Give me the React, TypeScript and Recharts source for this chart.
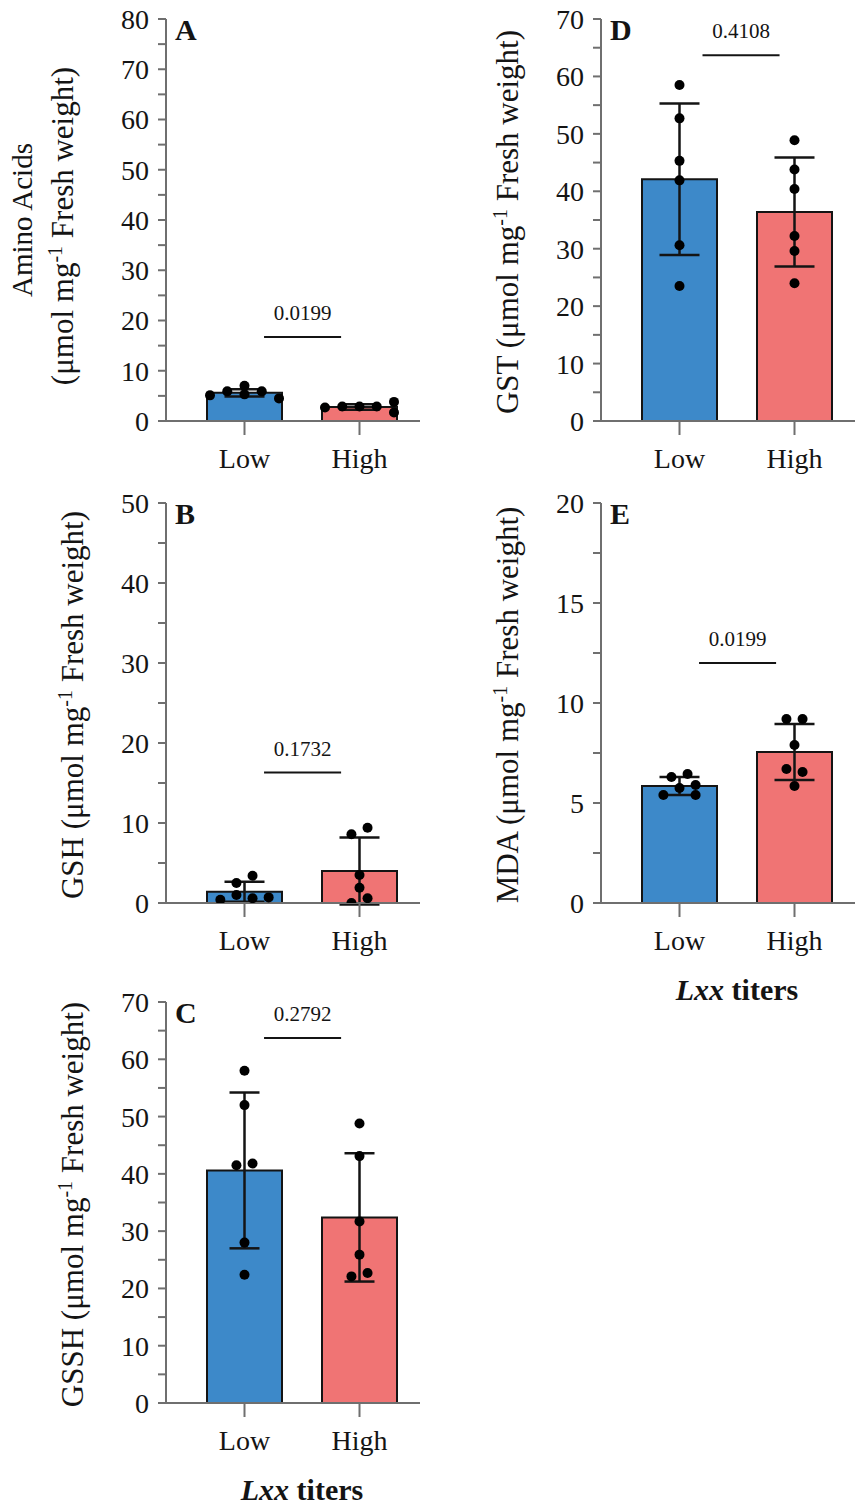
import React from 'react'
import {
  ComposedChart,
  Bar,
  ErrorBar,
  Scatter,
  XAxis,
  YAxis,
  ReferenceLine,
  Label,
  Cell,
} from 'recharts'

const groups = ['Low', 'High']
const barColors = ['#3d89c9', '#f07474']

// A - amino acids
const aminoMean = [5.6, 2.8]
const aminoSd = [0.7, 0.55]
const aminoLow = [5.1, 5.9, 7.0, 5.3, 5.9, 4.5]
const aminoHigh = [2.7, 2.9, 2.9, 2.9, 3.8, 1.7]
const aminoLowSpread = [-0.3, -0.15, 0, 0, 0.15, 0.3]
const aminoHighSpread = [-0.3, -0.15, 0, 0.15, 0.3, 0.3]
const aminoTicks = [0, 5, 10, 15, 20, 25, 30, 35, 40, 45, 50, 55, 60, 65, 70, 75, 80]

// B - GSH
const gshMean = [1.4, 4.0]
const gshSd = [1.25, 4.2]
const gshLow = [0.4, 1.0, 2.5, 3.4, 0.6, 0.7]
const gshHigh = [8.6, 9.4, 3.5, 1.9, 0.6, 0.0]
const gshLowSpread = [-0.21, -0.07, -0.07, 0.07, 0.07, 0.21]
const gshHighSpread = [-0.07, 0.07, 0, 0, 0.07, -0.07]
const gshTicks = [0, 5, 10, 15, 20, 25, 30, 35, 40, 45, 50]

// C - GSSH
const gsshMean = [40.6, 32.4]
const gsshSd = [13.6, 11.2]
const gsshLow = [58.0, 52.0, 41.5, 41.8, 28.0, 22.4]
const gsshHigh = [48.8, 43.1, 31.7, 25.9, 22.1, 22.7]
const gsshLowSpread = [0, 0, -0.07, 0.07, 0, 0]
const gsshHighSpread = [0, 0, 0, 0, -0.07, 0.07]
const gsshTicks = [0, 5, 10, 15, 20, 25, 30, 35, 40, 45, 50, 55, 60, 65, 70]

// D - GST
const gstMean = [42.1, 36.4]
const gstSd = [13.2, 9.5]
const gstLow = [58.5, 52.7, 45.3, 41.9, 30.6, 23.5]
const gstHigh = [48.9, 43.8, 40.4, 32.2, 29.6, 24.0]
const gstSpread = [0, 0, 0, 0, 0, 0]
const gstTicks = [0, 5, 10, 15, 20, 25, 30, 35, 40, 45, 50, 55, 60, 65, 70]

// E - MDA
const mdaMean = [5.85, 7.55]
const mdaSd = [0.45, 1.4]
const mdaLow = [6.3, 6.45, 5.75, 5.9, 5.4, 5.4]
const mdaHigh = [9.2, 9.2, 7.9, 6.7, 6.55, 5.85]
const mdaLowSpread = [-0.07, 0.07, 0, 0.14, -0.14, 0.14]
const mdaHighSpread = [-0.07, 0.07, 0, -0.07, 0.07, 0]
const mdaTicks = [0, 2.5, 5, 7.5, 10, 12.5, 15, 17.5, 20]

const FONT = '"Liberation Serif", "Times New Roman", serif'
const AXIS = '#6f6f6f'
const INK = '#141414'
const PAD = { left: 21, right: 3 }

function unitTitle(prefix: string) {
  return [
    <tspan key="a">{prefix}(μmol mg</tspan>,
    <tspan key="b" dy={-11} fontSize={20}>-1</tspan>,
    <tspan key="c" dy={11}> Fresh weight)</tspan>,
  ]
}

function yTitle(name: string, letter: string, twoLine: boolean) {
  return (props: any) => {
    const vb = props.viewBox
    const ax = vb.x + vb.width
    const cy = vb.y + vb.height / 2
    return (
      <g fontFamily={FONT} fill={INK}>
        {twoLine ? (
          <>
            <text transform={`translate(${ax - 134},${cy}) rotate(-90)`} textAnchor="middle" fontSize={29}>
              {name}
            </text>
            <text transform={`translate(${ax - 93},${cy + 6}) rotate(-90)`} textAnchor="middle" fontSize={31}>
              {unitTitle('')}
            </text>
          </>
        ) : (
          <text transform={`translate(${ax - 83},${cy + 2}) rotate(-90)`} textAnchor="middle" fontSize={31}>
            {unitTitle(name + ' ')}
          </text>
        )}
        <text x={ax + 9} y={vb.y + 21} fontSize={30} fontWeight="bold">
          {letter}
        </text>
      </g>
    )
  }
}

function xTitle(props: any) {
  const vb = props.viewBox
  const cx = vb.x + PAD.left + (vb.width - PAD.left - PAD.right) / 2
  return (
    <text x={cx} y={vb.y + 97} textAnchor="middle" fontFamily={FONT} fontSize={30} fontWeight="bold" fill={INK}>
      <tspan fontStyle="italic">Lxx</tspan> titers
    </text>
  )
}

const dot = (p: any) => <circle cx={p.cx} cy={p.cy} r={5} fill="#000" />

interface PanelProps {
  left: number
  top: number
  height: number
  letter: string
  name: string
  twoLine?: boolean
  mean: number[]
  sd: number[]
  low: number[]
  high: number[]
  lowSpread: number[]
  highSpread: number[]
  ticks: number[]
  labelStep: number
  cap: number
  sigY: number
  sig: string
  sigFrom?: number
  sigTo?: number
  xLabel?: boolean
}

function Panel(p: PanelProps) {
  const data = groups.map((name, i) => ({ name, mean: p.mean[i], sd: p.sd[i] }))
  const dots = [
    ...p.low.map((y, i) => ({ x: p.lowSpread[i], y })),
    ...p.high.map((y, i) => ({ x: 1 + p.highSpread[i], y })),
  ]
  const max = p.ticks[p.ticks.length - 1]
  return (
    <div style={{ position: 'absolute', left: p.left, top: p.top }}>
      <ComposedChart width={432} height={p.height} data={data} margin={{ top: 19, right: 12, bottom: 0, left: 0 }}>
        <XAxis
          dataKey="name"
          padding={PAD}
          height={p.xLabel ? 104 : 64}
          axisLine={{ stroke: AXIS, strokeWidth: 2 }}
          tickLine={{ stroke: AXIS, strokeWidth: 2 }}
          tickSize={14}
          tickMargin={13}
          tick={{ fill: INK, fontSize: 28, fontFamily: FONT }}
        >
          {p.xLabel && <Label content={xTitle} />}
        </XAxis>
        <XAxis xAxisId="n" type="number" dataKey="x" domain={[-0.5, 1.5]} allowDataOverflow padding={PAD} hide />
        <YAxis
          width={166}
          domain={[0, max]}
          ticks={p.ticks}
          interval={0}
          allowDataOverflow
          tickFormatter={(v: number) => (v % p.labelStep === 0 ? String(v) : '')}
          axisLine={{ stroke: AXIS, strokeWidth: 2 }}
          tickLine={{ stroke: AXIS, strokeWidth: 2 }}
          tickSize={8}
          tickMargin={9}
          tick={{ fill: INK, fontSize: 28, fontFamily: FONT }}
        >
          <Label content={yTitle(p.name, p.letter, !!p.twoLine)} />
        </YAxis>
        <Bar dataKey="mean" barSize={75} stroke={INK} strokeWidth={2} isAnimationActive={false}>
          {data.map((d, i) => (
            <Cell key={d.name} fill={barColors[i]} />
          ))}
          <ErrorBar dataKey="sd" width={p.cap / 2} stroke={INK} strokeWidth={2.5} />
        </Bar>
        <ReferenceLine
          xAxisId="n"
          segment={[
            { x: p.sigFrom ?? 0.17, y: p.sigY },
            { x: p.sigTo ?? 0.84, y: p.sigY },
          ]}
          stroke={INK}
          strokeWidth={2}
          label={{ value: p.sig, position: 'top', offset: 17, fontSize: 21, fontFamily: FONT, fill: INK }}
        />
        <Scatter xAxisId="n" data={dots} dataKey="y" shape={dot} isAnimationActive={false} />
      </ComposedChart>
    </div>
  )
}

export default function App() {
  return (
    <div style={{ position: 'absolute', left: 0, top: 0, width: 867, height: 1507, background: '#fff' }}>
      <Panel left={0} top={0} height={485} letter="A" name="Amino Acids" twoLine
        mean={aminoMean} sd={aminoSd} low={aminoLow} high={aminoHigh}
        lowSpread={aminoLowSpread} highSpread={aminoHighSpread}
        ticks={aminoTicks} labelStep={10} cap={40} sigY={16.7} sig="0.0199" />
      <Panel left={0} top={484} height={483} letter="B" name="GSH"
        mean={gshMean} sd={gshSd} low={gshLow} high={gshHigh}
        lowSpread={gshLowSpread} highSpread={gshHighSpread}
        ticks={gshTicks} labelStep={10} cap={40} sigY={16.3} sig="0.1732" />
      <Panel left={0} top={983} height={524} letter="C" name="GSSH" xLabel
        mean={gsshMean} sd={gsshSd} low={gsshLow} high={gsshHigh}
        lowSpread={gsshLowSpread} highSpread={gsshHighSpread}
        ticks={gsshTicks} labelStep={10} cap={30} sigY={63.7} sig="0.2792" />
      <Panel left={435} top={0} height={485} letter="D" name="GST"
        mean={gstMean} sd={gstSd} low={gstLow} high={gstHigh}
        lowSpread={gstSpread} highSpread={gstSpread}
        ticks={gstTicks} labelStep={10} cap={40} sigY={63.7} sig="0.4108" sigFrom={0.2} sigTo={0.87} />
      <Panel left={435} top={484} height={523} letter="E" name="MDA" xLabel
        mean={mdaMean} sd={mdaSd} low={mdaLow} high={mdaHigh}
        lowSpread={mdaLowSpread} highSpread={mdaHighSpread}
        ticks={mdaTicks} labelStep={5} cap={40} sigY={12.0} sig="0.0199" />
    </div>
  )
}
